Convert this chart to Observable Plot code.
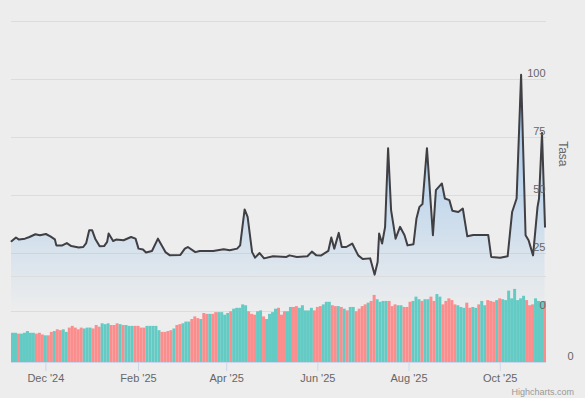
<!DOCTYPE html>
<html>
<head>
<meta charset="utf-8">
<script src="https://cdn.jsdelivr.net/npm/d3@7"></script>
<script src="https://cdn.jsdelivr.net/npm/@observablehq/plot@0.6"></script>
<style>
  html, body { margin: 0; padding: 0; background: #ededed; overflow: hidden; }
  #wrap { position: relative; width: 585px; height: 398px; background: #ededed;
          font-family: "Lucida Grande", "Lucida Sans Unicode", Arial, Helvetica, sans-serif; }
  #wrap svg { position: absolute; left: 0; top: 0; }
  #credits { position: absolute; right: 11px; top: 387px; font-size: 9px; color: #999; }
</style>
</head>
<body>
<div id="wrap"><div id="credits">Highcharts.com</div></div>
<script>
// ---- Data ----
const lineDates = ["2024-11-08","2024-11-11","2024-11-13","2024-11-17","2024-11-20","2024-11-24","2024-11-27","2024-12-01","2024-12-04","2024-12-07","2024-12-08","2024-12-12","2024-12-15","2024-12-18","2024-12-23","2024-12-26","2024-12-28","2024-12-30","2025-01-01","2025-01-03","2025-01-06","2025-01-09","2025-01-11","2025-01-12","2025-01-15","2025-01-17","2025-01-22","2025-01-27","2025-01-30","2025-02-01","2025-02-04","2025-02-06","2025-02-10","2025-02-14","2025-02-19","2025-02-22","2025-03-01","2025-03-04","2025-03-06","2025-03-11","2025-03-14","2025-03-23","2025-03-30","2025-04-03","2025-04-08","2025-04-10","2025-04-13","2025-04-15","2025-04-18","2025-04-20","2025-04-23","2025-04-26","2025-05-02","2025-05-11","2025-05-13","2025-05-18","2025-05-25","2025-05-28","2025-05-31","2025-06-03","2025-06-08","2025-06-10","2025-06-12","2025-06-15","2025-06-17","2025-06-20","2025-06-24","2025-06-28","2025-07-01","2025-07-06","2025-07-07","2025-07-09","2025-07-11","2025-07-12","2025-07-14","2025-07-16","2025-07-18","2025-07-20","2025-07-23","2025-07-26","2025-07-29","2025-07-31","2025-08-04","2025-08-06","2025-08-08","2025-08-10","2025-08-13","2025-08-17","2025-08-19","2025-08-23","2025-08-25","2025-08-28","2025-08-30","2025-09-03","2025-09-06","2025-09-09","2025-09-13","2025-09-23","2025-09-25","2025-10-01","2025-10-06","2025-10-09","2025-10-12","2025-10-15","2025-10-18","2025-10-20","2025-10-23","2025-10-26","2025-10-27","2025-10-29","2025-10-31"];
const lineValues = [30.3,31.9,31.0,31.4,32.1,33.3,32.9,33.4,32.4,31.1,28.5,28.5,29.5,28.2,27.6,27.8,29.5,35,35,31.4,28.1,28.2,30,33.6,30.4,31,30.7,32.1,31.4,27.1,26.7,25.4,26.1,31.4,25.6,24.2,24.4,27.1,27.8,25.6,26.1,26.1,26.8,26.4,27.1,28.5,44,40.8,25.6,23.2,25.2,22.9,23.8,23.5,24.2,23.5,23.8,25.8,24.2,24.1,26.1,31.9,27.1,33.9,27.8,27.8,29.3,24.2,22.6,22.9,20.6,15.9,21.3,33.6,29.3,36.5,70.4,43.7,31.4,36.5,32.9,28.5,29,40.1,45.1,46.3,70.4,32.9,52.3,55.2,48.7,48,43.4,42.9,44.4,32.4,33,33,23.5,23.2,23.8,42.9,48.7,102,32.9,30.7,24.2,45.1,48.7,76.9,36.5];

// Column series: one column every two days from the first date
const barStart = "2024-11-08";
const barValues = [34,34,33,33,34,36,34,34,33,34, 32,31,31,35,36,38,37,38,35,40, 42,40,38,40,39,40,40,39,43,41, 45,44,45,43,43,45,44,43,43,42, 42,42,42,40,40,42,42,42,42,37, 35,35,36,37,39,43,44,45,47,47, 50,53,51,50,57,56,56,56,58,58, 58,55,57,59,62,63,63,67,66,59, 56,55,59,60,53,50,56,58,62,63, 55,59,59,64,64,65,63,66,60,60, 63,60,64,65,67,70,70,66,65,65, 64,62,60,64,64,59,62,65,67,69, 71,78,73,70,71,71,71,65,67,66, 66,64,64,70,71,76,73,71,73,73, 76,71,79,76,67,71,74,72,67,66, 64,63,69,63,64,63,67,71,66,72, 71,70,72,74,73,72,83,74,85,72, 74,77,72,66,67,74,71,70,71];
const barDirection = ("TT"+"S"+"TTTTT"+"SSS"+"T"+"SS"+"T"+"SS"+"TT"+"SSSSS"+"TTT"+"SSS"+"TTT"+"SSS"+"T"+"S"+"TTT"+"SSSS"+"TTTTT"+"SSSS"+"T"+"SS"+"TTT"+"SSS"+"T"+"SS"+"T"+"SS"+"TTTT"+"S"+"TTTTT"+"SSS"+"TT"+"S"+"TTTT"+"SSS"+"TT"+"SS"+"TTTTT"+"SSS"+"TTT"+"SS"+"T"+"S"+"T"+"S"+"TT"+"SSSS"+"T"+"SS"+"TTTT"+"SSS"+"TT"+"SSS"+"TTT"+"S"+"TT"+"SS"+"TT"+"SSSSS"+"TTT"+"SS"+"TT"+"S"+"TT"+"SSS"+"T"+"S"+"TTTTTTTT"+"SSS"+"TTT"+"S").split("");

const xDomain = ["2024-11-08", "2025-11-01"];
const xTicks = ["2024-12-01","2025-02-01","2025-04-01","2025-06-01","2025-08-01","2025-10-01"];
const rateTicks = [0, 25, 50, 75, 100];
const rateGrid = [0, 25, 50, 75, 100, 125];
const axisTitle = "Tasa";

// ---- Build tables ----
const line = lineDates.map((d, i) => ({date: new Date(d), v: lineValues[i]}));
const barOrigin = new Date(barStart);
const bars = barValues.map((v, i) => ({
  start: d3.utcDay.offset(barOrigin, 2 * i),
  end: d3.utcDay.offset(barOrigin, 2 * i + 2),
  v, dir: barDirection[i]
}));

const W = 585, H = 398;
const font = '"Lucida Grande", "Lucida Sans Unicode", Arial, Helvetica, sans-serif';
const baseStyle = {background: "none", overflow: "visible", fontFamily: font, fontSize: "11px", color: "#666"};
const xScale = {type: "utc", domain: xDomain.map(d => new Date(d)), axis: null};
const wrap = document.getElementById("wrap");

// Layer 1: top pane (grid, area, line)
const topPane = Plot.plot({
  width: W, height: H, marginLeft: 11, marginRight: 39, marginTop: 21, marginBottom: 87,
  style: baseStyle,
  x: xScale,
  y: {domain: [0, 125], axis: null},
  marks: [
    Plot.gridY(rateGrid, {stroke: "#dcdcdc", strokeOpacity: 1}),
    Plot.areaY(line, {x: "date", y: "v", fill: "url(#areaGrad)"}),
    Plot.lineY(line, {x: "date", y: "v", stroke: "#3f3f44", strokeWidth: 2})
  ]
});
const defs = document.createElementNS("http://www.w3.org/2000/svg", "defs");
defs.innerHTML = '<linearGradient id="areaGrad" x1="0" y1="0" x2="0" y2="1">' +
  '<stop offset="0" stop-color="#7cb5ec" stop-opacity="0.75"/>' +
  '<stop offset="1" stop-color="#7cb5ec" stop-opacity="0"/></linearGradient>';
topPane.prepend(defs);
wrap.appendChild(topPane);

// Layer 2: column pane + x axis
const bottomPane = Plot.plot({
  width: W, height: H, marginLeft: 11, marginRight: 39, marginTop: 276, marginBottom: 36,
  style: baseStyle,
  x: xScale,
  y: {domain: [0, 100], axis: null},
  color: {domain: ["T", "S"], range: ["#63cbc4", "#fb8d8d"]},
  marks: [
    Plot.gridY([100], {stroke: "#dcdcdc", strokeOpacity: 1}),
    Plot.rectY(bars, {x1: "start", x2: "end", y: "v", fill: "dir"}),
    Plot.ruleY([0], {stroke: "#ccd6eb"}),
    Plot.axisX(xTicks.map(d => new Date(d)), {
      tickSize: 9, tickPadding: 3, stroke: "#ccd6eb", fill: "#666", fontSize: 11,
      tickFormat: d3.utcFormat("%b '%y"), label: null
    }),
    Plot.axisY([0], {anchor: "right", tickSize: 0, tickPadding: 21, dy: -6, fill: "#666", fontSize: 11, label: null})
  ]
});
wrap.appendChild(bottomPane);

// Layer 3: top pane labels and title
const labelPane = Plot.plot({
  width: W, height: H, marginLeft: 11, marginRight: 39, marginTop: 21, marginBottom: 87,
  style: baseStyle,
  y: {domain: [0, 125], axis: null},
  marks: [
    Plot.axisY(rateTicks, {anchor: "right", tickSize: 0, tickPadding: 0, dx: -1, dy: -6,
      textAnchor: "end", fill: "#666", fontSize: 11, label: null}),
    Plot.text([axisTitle], {frameAnchor: "right", dx: 16, rotate: 90, fill: "#666", fontSize: 12})
  ]
});
wrap.appendChild(labelPane);
</script>
</body>
</html>
